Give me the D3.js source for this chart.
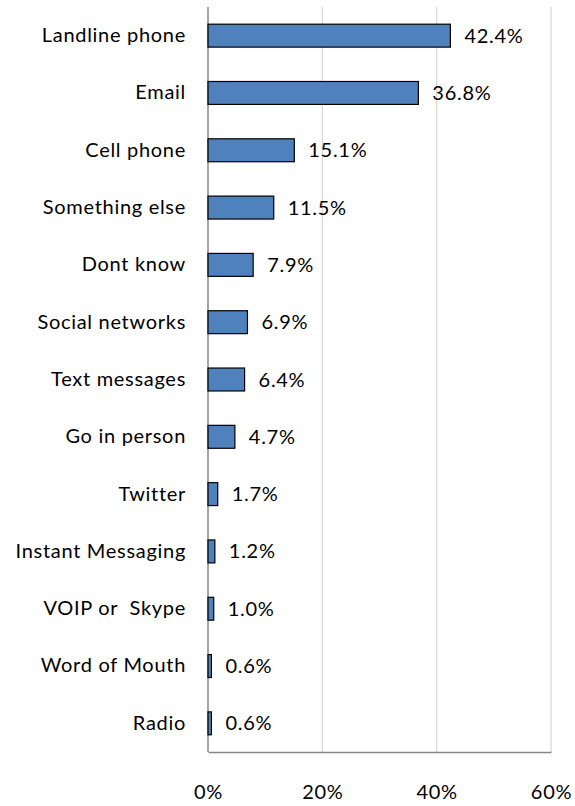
<!DOCTYPE html>
<html>
<head>
<meta charset="utf-8">
<script src="https://cdn.jsdelivr.net/npm/d3@7"></script>
<style>
  html, body { margin: 0; padding: 0; background: #fff; }
  svg { display: block; }
  text { font-family: Lato, "Open Sans", sans-serif; fill: #000; white-space: pre; letter-spacing: 0.7px; }
</style>
</head>
<body>
<svg id="chart" width="575" height="806"></svg>
<script>
// Share of respondents by contact channel (%)
const categories = [
  "Landline phone", "Email", "Cell phone", "Something else", "Dont know",
  "Social networks", "Text messages", "Go in person", "Twitter",
  "Instant Messaging", "VOIP or  Skype", "Word of Mouth", "Radio"
];
const values = [42.4, 36.8, 15.1, 11.5, 7.9, 6.9, 6.4, 4.7, 1.7, 1.2, 1.0, 0.6, 0.6];
const tickValues = [0, 20, 40, 60];

const FONT = "Lato, 'Open Sans', sans-serif";
const SIZE = "20px";

const svg = d3.select("#chart");
const plot = { left: 208, right: 551, top: 7, bottom: 752 };

const x = d3.scaleLinear().domain([0, 60]).range([plot.left, plot.right]);
const y = d3.scaleBand().domain(categories).range([plot.top, plot.bottom]).paddingInner(0.6).paddingOuter(0.3);

// vertical gridlines
svg.append("g")
  .selectAll("line")
  .data(tickValues.filter(t => t > 0))
  .join("line")
  .attr("x1", d => x(d)).attr("x2", d => x(d))
  .attr("y1", plot.top).attr("y2", plot.bottom)
  .attr("stroke", "#d9d9d9").attr("stroke-width", 1.3);

// bottom axis with tick labels below
const xAxis = d3.axisBottom(x)
  .tickValues(tickValues)
  .tickFormat(d => d + "%")
  .tickSize(0)
  .tickPadding(33);
const gx = svg.append("g").attr("transform", `translate(0,${plot.bottom})`).call(xAxis);
gx.select(".domain").attr("stroke", "#868686").attr("stroke-width", 1.5);
gx.selectAll("text").style("font-size", SIZE).style("font-family", FONT).attr("fill", "#000");

// left axis with category labels
const yAxis = d3.axisLeft(y).tickSize(0).tickPadding(22);
const gy = svg.append("g").attr("transform", `translate(${plot.left},0)`).call(yAxis);
gy.select(".domain").attr("d", `M0,${plot.top}V${plot.bottom}`).attr("stroke", "#868686").attr("stroke-width", 1.5);
gy.selectAll("text").style("font-size", SIZE).style("font-family", FONT).attr("fill", "#000");

const rows = categories.map((c, i) => ({ c, v: values[i] }));

// bars
svg.append("g")
  .selectAll("rect")
  .data(rows)
  .join("rect")
  .attr("x", x(0))
  .attr("y", d => y(d.c))
  .attr("width", d => x(d.v) - x(0))
  .attr("height", y.bandwidth())
  .attr("fill", "#4f81bd")
  .attr("stroke", "#000")
  .attr("stroke-width", 1.2);

// value labels
svg.append("g")
  .selectAll("text")
  .data(rows)
  .join("text")
  .attr("x", d => x(d.v) + 14)
  .attr("y", d => y(d.c) + y.bandwidth() / 2)
  .attr("dy", "0.35em")
  .style("font-size", SIZE)
  .text(d => d.v.toFixed(1) + "%");
</script>
</body>
</html>
